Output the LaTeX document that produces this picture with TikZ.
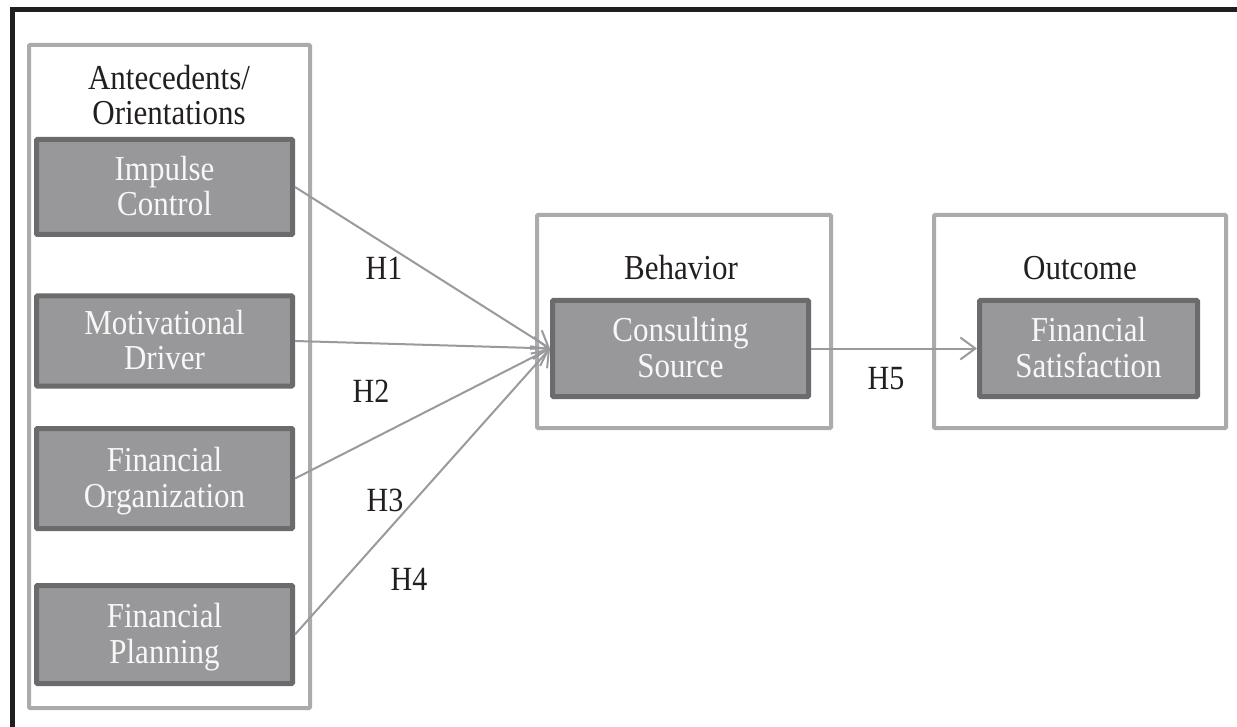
\documentclass[tikz,border=0pt]{standalone}
\usepackage{fontspec}
\usepackage{graphicx}
\setmainfont{Liberation Serif}
\usetikzlibrary{arrows.meta}
\definecolor{contgray}{HTML}{ABABAD}
\definecolor{boxfill}{HTML}{98989A}
\definecolor{boxline}{HTML}{6B6B6D}
\definecolor{arrgray}{HTML}{9A9A9C}
\definecolor{txtdark}{HTML}{231F20}
\definecolor{txtlight}{HTML}{F7F7F7}
\newcommand\tallstack[1]{\raisebox{-4pt}[\height][\depth]{\scalebox{1}[1.13]{\begin{tabular}{@{}c@{}}#1\end{tabular}}}}
\tikzset{
  container/.style={draw=contgray, line width=4pt, rounded corners=1pt},
  varbox/.style={draw=boxline, fill=boxfill, line width=5pt, rounded corners=1pt,
    minimum width=256pt, inner sep=0pt, text=txtlight, align=center,
    font=\fontsize{31}{31}\selectfont},
  grouplabel/.style={text=txtdark, align=center, inner sep=0pt, font=\fontsize{31}{31}\selectfont},
  hlabel/.style={text=txtdark, inner sep=0pt, font=\fontsize{30}{31}\selectfont},
  link/.style={draw=arrgray, line width=2pt, -{Straight Barb[length=15pt,width=22pt,line width=2pt]}},
}
\begin{document}
\begin{tikzpicture}[x=1pt,y=-1pt]
\useasboundingbox (0,0) rectangle (1237,727);
\clip (0,0) rectangle (1237,727);
\fill[white] (0,0) rectangle (1237,727);
% outer frame (cropped)
\draw[line width=5pt, black!88] (12,760) -- (12,10) -- (1270,10);
% containers
\draw[container] (29,45) rectangle (310,708);
\draw[container] (537,215) rectangle (831,428);
\draw[container] (934,215) rectangle (1226,428);
% group labels
\node[grouplabel] (antlab) at (169,96) {\tallstack{Antecedents/\\Orientations}};
\node[grouplabel] (behlab) at (681,268) {\tallstack{Behavior}};
\node[grouplabel] (outlab) at (1080,268) {\tallstack{Outcome}};
% variable boxes
\node[varbox, minimum height=95pt] (imp) at (164.5,187) {\tallstack{Impulse\\Control}};
\node[varbox, minimum height=90pt] (mot) at (164.5,341) {\tallstack{Motivational\\Driver}};
\node[varbox, minimum height=100pt] (org) at (164.5,478.5) {\tallstack{Financial\\Organization}};
\node[varbox, minimum height=98pt] (pla) at (164.5,634.5) {\tallstack{Financial\\Planning}};
\node[varbox, minimum height=96pt] (con) at (680.5,348.5) {\tallstack{Consulting\\Source}};
\node[varbox, minimum width=218pt, minimum height=96pt] (sat) at (1088.5,348.5) {\tallstack{Financial\\Satisfaction}};
% connectors
\draw[link] (imp.east) -- (con.west);
\draw[link] (mot.east) -- (con.west);
\draw[link] (org.east) -- (con.west);
\draw[link] (pla.east) -- (con.west);
\draw[link] (con.east) -- (sat.west);
% hypothesis labels
\node[hlabel] (h1) at (384,268) {\tallstack{H1}};
\node[hlabel] (h2) at (371,391) {\tallstack{H2}};
\node[hlabel] (h3) at (385,500) {\tallstack{H3}};
\node[hlabel] (h4) at (409,579) {\tallstack{H4}};
\node[hlabel] (h5) at (886,378) {\tallstack{H5}};
\end{tikzpicture}
\end{document}
